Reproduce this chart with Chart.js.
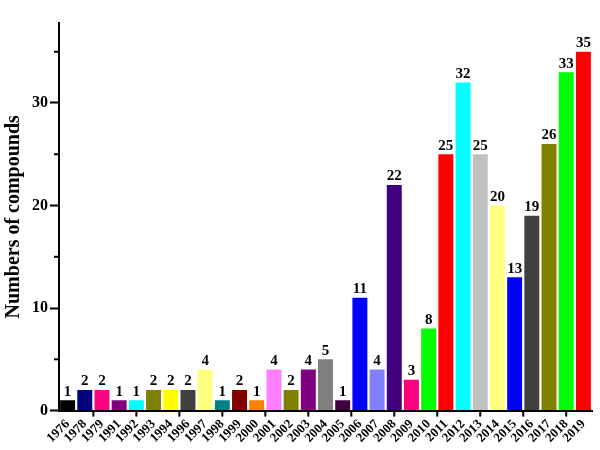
<!DOCTYPE html>
<html lang="en">
<head>
    <meta charset="UTF-8">
    <title>Numbers of compounds per year</title>
    <script src="https://cdn.jsdelivr.net/npm/chart.js"></script>
    <style>
        body { margin: 0; background: #fff; }
        #wrap { width: 600px; height: 450px; }
    </style>
</head>
<body>
    <div id="wrap"><canvas id="compoundsChart"></canvas></div>

    <script>
        const years = ['1976', '1978', '1979', '1991', '1992', '1993', '1994', '1996', '1997', '1998',
            '1999', '2000', '2001', '2002', '2003', '2004', '2005', '2006', '2007', '2008',
            '2009', '2010', '2011', '2012', '2013', '2014', '2015', '2016', '2017', '2018', '2019'];
        const counts = [1, 2, 2, 1, 1, 2, 2, 2, 4, 1,
            2, 1, 4, 2, 4, 5, 1, 11, 4, 22,
            3, 8, 25, 32, 25, 20, 13, 19, 26, 33, 35];
        const barColors = ['#000000', '#000080', '#FF0080', '#800080', '#00FFFF', '#808000', '#FFFF00', '#404040', '#FFFF80', '#008080',
            '#800000', '#FF8000', '#FF80FF', '#808000', '#800080', '#808080', '#400040', '#0000FF', '#8080FF', '#400080',
            '#FF0080', '#00FF00', '#FF0000', '#00FFFF', '#C0C0C0', '#FFFF80', '#0000FF', '#404040', '#808000', '#00FF00', '#FF0000'];
        const yLabels = [0, 10, 20, 30];
        const yMinor = [5, 15, 25, 35];
        // Origin-style major ticks on the x axis (in category index units)
        const xTickMarks = [1.5, 4, 6.5, 9, 11.5, 14, 16.5, 19, 21.5, 24, 26.5, 29];

        const serif = "'Liberation Serif', 'Times New Roman', serif";

        const extras = {
            id: 'extras',
            afterDraw(chart) {
                const ctx = chart.ctx;
                const x = chart.scales.x;
                const y = chart.scales.y;
                ctx.save();
                ctx.strokeStyle = '#000';
                ctx.lineWidth = 2;
                // minor y ticks
                yMinor.forEach(v => {
                    const py = y.getPixelForValue(v);
                    ctx.beginPath();
                    ctx.moveTo(x.left - 5, py);
                    ctx.lineTo(x.left, py);
                    ctx.stroke();
                });
                // x ticks
                xTickMarks.forEach(v => {
                    const px = x.getPixelForValue(v);
                    ctx.beginPath();
                    ctx.moveTo(px, y.bottom);
                    ctx.lineTo(px, y.bottom + 6);
                    ctx.stroke();
                });
                // value labels
                ctx.fillStyle = '#000';
                ctx.font = 'bold 15px ' + serif;
                ctx.textAlign = 'center';
                ctx.textBaseline = 'bottom';
                chart.getDatasetMeta(0).data.forEach((bar, i) => {
                    ctx.fillText(counts[i], bar.x, bar.y - 1);
                });
                ctx.restore();
            }
        };

        new Chart(document.getElementById('compoundsChart'), {
            type: 'bar',
            data: {
                labels: years,
                datasets: [{
                    data: counts,
                    backgroundColor: barColors,
                    borderWidth: 0,
                    barPercentage: 0.87,
                    categoryPercentage: 1.0
                }]
            },
            options: {
                responsive: true,
                maintainAspectRatio: false,
                animation: false,
                layout: { padding: { top: 23, right: 8, left: 2, bottom: 4 } },
                plugins: {
                    legend: { display: false },
                    tooltip: { enabled: false }
                },
                scales: {
                    x: {
                        grid: { display: true, drawOnChartArea: false, tickLength: 6, color: 'transparent' },
                        border: { display: true, color: '#000', width: 2 },
                        ticks: {
                            color: '#000',
                            font: { family: serif, size: 13, weight: 'bold' },
                            maxRotation: 45,
                            minRotation: 45,
                            autoSkip: false,
                            padding: 0
                        }
                    },
                    y: {
                        min: 0,
                        max: 37.8,
                        afterBuildTicks: scale => {
                            scale.ticks = yLabels.map(v => ({ value: v }));
                        },
                        grid: { drawOnChartArea: false, tickLength: 9, tickWidth: 2, tickColor: '#000' },
                        border: { display: true, color: '#000', width: 2 },
                        ticks: {
                            color: '#000',
                            font: { family: serif, size: 16, weight: 'bold' },
                            padding: 2
                        },
                        title: {
                            display: true,
                            text: 'Numbers of compounds',
                            color: '#000',
                            font: { family: serif, size: 20, weight: 'bold' },
                            padding: { top: 0, bottom: 4 }
                        }
                    }
                }
            },
            plugins: [extras]
        });
    </script>
</body>
</html>
